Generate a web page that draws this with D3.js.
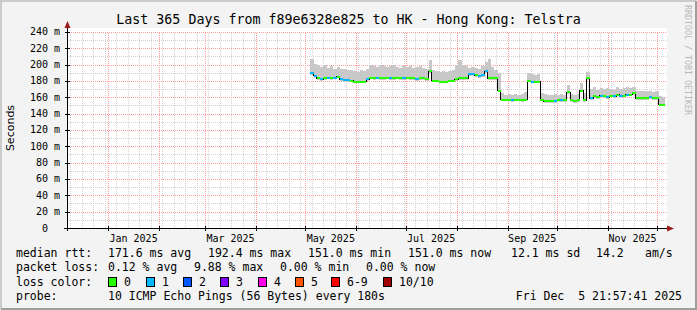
<!DOCTYPE html>
<html>
<head>
<meta charset="utf-8">
<script src="https://cdn.jsdelivr.net/npm/d3@7"></script>
<style>
  body { margin: 0; background: #f3f3f3; }
  svg text { font-family: "DejaVu Sans Mono", monospace; white-space: pre; }
</style>
</head>
<body>
<div id="chart"></div>
<script>
// day of year 2025 (0 = Jan 1), one sample every 2 days
const days = [123,125,127,129,131,133,135,137,139,141,143,145,147,149,151,153,155,157,159,161,163,165,167,169,171,173,175,177,179,181,183,185,187,189,191,193,195,197,199,201,203,205,207,209,211,213,215,217,219,221,223,225,227,229,231,233,235,237,239,241,243,245,247,249,251,253,255,257,259,261,263,265,267,269,271,273,275,277,279,281,283,285,287,289,291,293,295,297,299,301,303,305,307,309,311,313,315,317,319,321,323,325,327,329,331,333,335,337]
// median rtt in ms
const median = [189,186,183,182,183,184,183,184,185,182,181,181,180,179,179,179,179,182,184,183,184,183,183,184,183,183,184,183,183,184,183,183,182,183,183,182,192,180,180,179,179,179,180,180,182,183,183,183,188,188,187,186,187,192,183,183,183,168,157,157,157,156,157,157,156,157,180,179,179,179,157,155,155,155,155,156,156,156,166,156,155,156,168,156,183,159,161,160,162,161,160,162,161,163,161,162,163,163,165,159,159,159,159,160,159,159,151,151]
// upper edge of the smoke in ms
const smokeTop = [207,201,199,197,199,196,198,195,197,194,195,193,193,192,191,193,192,194,199,198,197,199,198,197,198,199,197,196,198,197,198,196,197,198,196,195,205,193,192,191,192,191,192,193,199,205,200,198,196,197,196,195,198,203,207,197,193,190,165,163,164,163,164,163,164,166,190,188,187,188,165,164,163,163,164,163,164,163,175,164,163,164,177,165,191,170,172,169,171,170,171,170,169,172,170,171,172,171,172,168,167,167,168,167,166,167,161,160]
// packet loss class per sample (index into lossColors)
const lossIdx = [1,1,0,1,0,1,0,1,0,1,1,1,0,0,0,0,0,1,0,0,1,0,0,0,1,0,0,0,1,0,0,0,1,0,0,0,0,0,0,0,0,0,0,0,0,0,0,0,1,1,0,1,1,1,0,0,0,0,0,0,0,1,0,0,0,0,0,1,0,0,0,0,0,0,1,0,1,0,0,0,0,0,0,0,0,1,0,0,1,0,1,0,1,0,1,0,1,0,0,0,0,0,0,1,0,0,0,0]

const yTicks = [0,20,40,60,80,100,120,140,160,180,200,220,240]
const yLabels = ["0  ","20 m","40 m","60 m","80 m","100 m","120 m","140 m","160 m","180 m","200 m","220 m","240 m"]
const monthLabels = ["Jan 2025","Mar 2025","May 2025","Jul 2025","Sep 2025","Nov 2025"]
const lossColors = ["#26ff00","#00b8ff","#0059ff","#7e00ff","#ff00ea","#ff5500","#ff0000","#a10000"]
const lossNames = ["0","1","2","3","4","5","6-9","10/10"]

const W = 697, H = 310
const pLeft = 67, pRight = 667, pTop = 28, pBottom = 228

const svg = d3.select("#chart").append("svg")
    .attr("width", W).attr("height", H)

// frame
svg.append("rect").attr("width", W).attr("height", H).attr("fill", "#f3f3f3")
svg.append("path").attr("d", `M1,${H-1}V1H${W-1}`).attr("fill", "none").attr("stroke", "#cbcbcb").attr("stroke-width", 2)
svg.append("path").attr("d", `M1,${H-1}H${W-1}V1`).attr("fill", "none").attr("stroke", "#9e9e9e").attr("stroke-width", 2)

const t0 = new Date(2024, 11, 7), t1 = new Date(2025, 11, 7)
const now = new Date(2025, 11, 5, 21, 57, 41)
const jan1 = new Date(2025, 0, 1)

const x = d3.scaleTime().domain([t0, t1]).range([pLeft, pRight])
const y = d3.scaleLinear().domain([0, 240]).range([pBottom, 31.8])

// canvas
svg.append("rect").attr("x", pLeft).attr("y", pTop)
    .attr("width", pRight - pLeft).attr("height", pBottom - pTop).attr("fill", "#fff")

const grid = svg.append("g").attr("shape-rendering", "crispEdges")
const gx = v => Math.round(x(v)) + 0.5
const gy = v => Math.round(y(v)) + 0.5

// minor grid
d3.timeMonday.range(t0, t1).forEach(d => {
    grid.append("line").attr("x1", gx(d)).attr("x2", gx(d)).attr("y1", pBottom).attr("y2", y(240))
        .attr("stroke", "#d2d2d2").attr("stroke-dasharray", "1,1")
})
d3.range(10, 240, 20).forEach(v => {
    grid.append("line").attr("x1", pLeft).attr("x2", pRight).attr("y1", gy(v)).attr("y2", gy(v))
        .attr("stroke", "#d2d2d2").attr("stroke-dasharray", "1,1")
})
// major grid
const months = d3.timeMonth.range(t0, t1)
months.forEach(d => {
    grid.append("line").attr("x1", gx(d)).attr("x2", gx(d)).attr("y1", pBottom).attr("y2", y(240))
        .attr("stroke", "#ff9c9c").attr("stroke-dasharray", "1,1")
})
yTicks.slice(1).forEach(v => {
    grid.append("line").attr("x1", pLeft).attr("x2", pRight).attr("y1", gy(v)).attr("y2", gy(v))
        .attr("stroke", "#ff9c9c").attr("stroke-dasharray", "1,1")
})

// data
const pts = days.map((d, i) => ({
    t: d3.timeDay.offset(jan1, d),
    med: median[i], hi: smokeTop[i], loss: lossIdx[i]
}))
pts.forEach((p, i) => { p.tEnd = i < pts.length - 1 ? pts[i + 1].t : now })

const plot = svg.append("g").attr("shape-rendering", "crispEdges")

// smoke
plot.selectAll(".smoke")
    .data(pts)
    .enter()
    .append("rect")
    .attr("class", "smoke")
    .attr("x", d => x(d.t))
    .attr("width", d => x(d.tEnd) - x(d.t))
    .attr("y", d => y(d.hi))
    .attr("height", d => y(d.med - 2) - y(d.hi))
    .attr("fill", "#c8c8c8")

// median connector line
let path = ""
pts.forEach((p, i) => {
    path += (i === 0 ? "M" : "L") + x(p.t) + "," + y(p.med) + "H" + x(p.tEnd)
})
plot.append("path").attr("d", path).attr("fill", "none")
    .attr("stroke", "#000").attr("stroke-width", 1)

// median coloured by loss
plot.selectAll(".med")
    .data(pts)
    .enter()
    .append("line")
    .attr("class", "med")
    .attr("x1", d => x(d.t))
    .attr("x2", d => x(d.tEnd))
    .attr("y1", d => y(d.med))
    .attr("y2", d => y(d.med))
    .attr("stroke", d => lossColors[d.loss])
    .attr("stroke-width", 2)

// axes
const ax = svg.append("g").attr("shape-rendering", "crispEdges")
ax.append("line").attr("x1", 64).attr("x2", 670).attr("y1", pBottom + 0.5).attr("y2", pBottom + 0.5).attr("stroke", "#000")
ax.append("line").attr("x1", pLeft + 0.5).attr("x2", pLeft + 0.5).attr("y1", 231).attr("y2", 25).attr("stroke", "#000")
yTicks.forEach(v => {
    ax.append("line").attr("x1", pLeft - 2).attr("x2", pLeft + 3).attr("y1", gy(v)).attr("y2", gy(v)).attr("stroke", "#000")
})
months.forEach(d => {
    ax.append("line").attr("x1", gx(d)).attr("x2", gx(d)).attr("y1", pBottom - 2).attr("y2", pBottom + 3).attr("stroke", "#000")
})
svg.append("path").attr("d", `M${pLeft + 0.5},21L${pLeft + 3.5},28L${pLeft - 2.5},28Z`).attr("fill", "#9b1c1c")
svg.append("path").attr("d", `M674,${pBottom + 0.5}L667,${pBottom - 2.5}L667,${pBottom + 3.5}Z`).attr("fill", "#9b1c1c")

// y labels
svg.selectAll(".ylab")
    .data(yTicks)
    .enter()
    .append("text")
    .attr("class", "ylab")
    .attr("x", 60)
    .attr("y", d => y(d) + 3.5)
    .attr("text-anchor", "end")
    .style("font-size", "10px")
    .text((d, i) => yLabels[i])

// month labels, centred on the month
monthLabels.forEach((lab, i) => {
    const m0 = new Date(2025, i * 2, 1), m1 = new Date(2025, i * 2 + 1, 1)
    svg.append("text")
        .attr("x", (x(m0) + x(m1)) / 2)
        .attr("y", 241.5)
        .attr("text-anchor", "middle")
        .style("font-size", "10px")
        .text(lab)
})

// title and axis title
svg.append("text").attr("x", W / 2).attr("y", 23.5).attr("text-anchor", "middle")
    .style("font-size", "13.3px").text("Last 365 Days from f89e6328e825 to HK - Hong Kong: Telstra")
svg.append("text").attr("transform", "translate(14,128) rotate(-90)").attr("text-anchor", "middle")
    .style("font-family", "DejaVu Sans, sans-serif").style("font-size", "11px").text("Seconds")
svg.append("text").attr("transform", "translate(685,5) rotate(90)")
    .style("font-size", "8.3px").attr("fill", "#b8b8b8").text("RRDTOOL / TOBI OETIKER")

// legend
const lg = svg.append("g").style("font-size", "11.5px")
const row1 = [[16, "median rtt:"], [108, "171.6 ms avg"], [208, "192.4 ms max"], [308, "151.0 ms min"],
    [408, "151.0 ms now"], [511, "12.1 ms sd"], [596, "14.2"], [645, "am/s"]]
const row2 = [[16, "packet loss:"], [108, "0.12 % avg"], [194, "9.88 % max"], [280, "0.00 % min"], [366, "0.00 % now"]]
row1.forEach(r => lg.append("text").attr("x", r[0]).attr("y", 256.5).text(r[1]))
row2.forEach(r => lg.append("text").attr("x", r[0]).attr("y", 271).text(r[1]))
lg.append("text").attr("x", 16).attr("y", 285.5).text("loss color:")
const boxX = [108, 146, 183, 220, 258, 295, 331, 383]
lossNames.forEach((n, i) => {
    lg.append("rect").attr("x", boxX[i] + 0.5).attr("y", 277.5).attr("width", 8).attr("height", 9)
        .attr("fill", lossColors[i]).attr("stroke", "#000").attr("stroke-width", 1)
    lg.append("text").attr("x", boxX[i] + 16).attr("y", 285.5).text(n)
})
lg.append("text").attr("x", 16).attr("y", 300).text("probe:")
lg.append("text").attr("x", 108).attr("y", 300).text("10 ICMP Echo Pings (56 Bytes) every 180s")
lg.append("text").attr("x", 682).attr("y", 300).attr("text-anchor", "end").text("Fri Dec  5 21:57:41 2025")
</script>
</body>
</html>
